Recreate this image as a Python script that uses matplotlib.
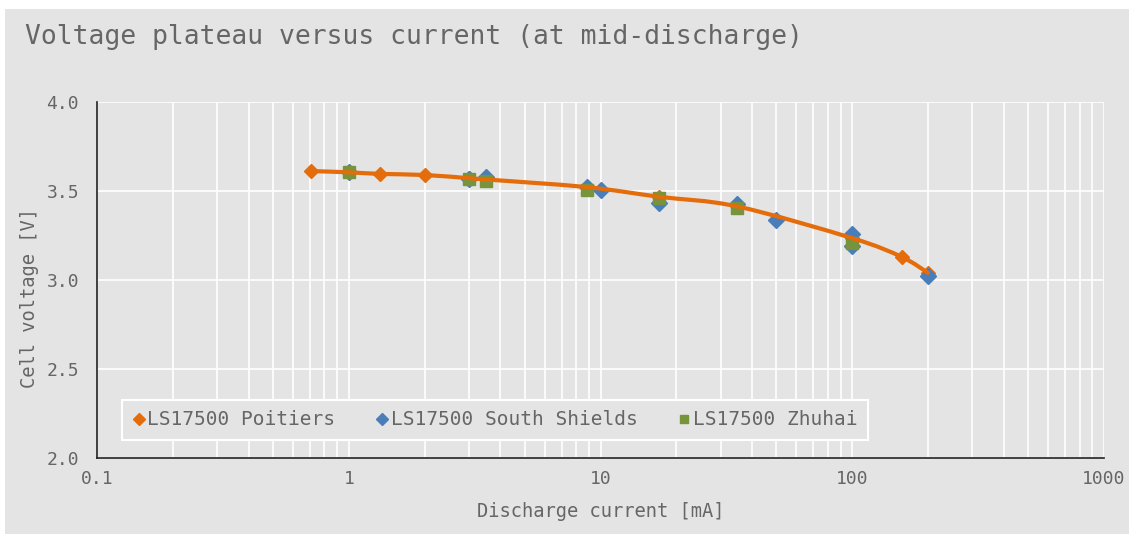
import numpy as np
import matplotlib.pyplot as plt
from matplotlib.lines import Line2D
from matplotlib.patches import Rectangle, PathPatch
from matplotlib.path import Path

# discharge current [mA] and mid-discharge voltage [V]
poitiers_i = [0.71, 1.0, 1.33, 2.0, 3.0, 3.5, 8.8, 17, 35, 100, 157, 200]
poitiers_v = [3.612, 3.605, 3.596, 3.59, 3.572, 3.565, 3.522, 3.468, 3.413, 3.235, 3.13, 3.04]

shields_i = [1.0, 3.0, 3.5, 8.8, 10, 17, 35, 50, 100, 100, 200]
shields_v = [3.605, 3.565, 3.58, 3.52, 3.506, 3.435, 3.425, 3.337, 3.26, 3.19, 3.025]

zhuhai_i = [1.0, 3.0, 3.5, 8.8, 17, 35, 100]
zhuhai_v = [3.605, 3.567, 3.558, 3.506, 3.46, 3.405, 3.21]

x_ticks = [0.1, 1, 10, 100, 1000]
x_ticklabels = ['0.1', '1', '10', '100', '1000']
y_ticks = [2.0, 2.5, 3.0, 3.5, 4.0]

ORANGE = '#E46C0A'
BLUE = '#4A7EBB'
GREEN = '#77933C'
BG = '#E4E4E4'
TXT = '#666666'
FONT = 'DejaVu Sans Mono'

plt.rcParams['font.family'] = FONT


def smooth_path(xs, ys, t=0.5):
    # Excel-like smoothed line: Catmull-Rom segments as cubic Bezier in log-x space
    lx = np.log10(xs)
    y = np.asarray(ys, float)
    n = len(lx)
    verts = [(xs[0], y[0])]
    codes = [Path.MOVETO]
    for k in range(n - 1):
        p0 = max(k - 1, 0)
        p3 = min(k + 2, n - 1)
        c1x = lx[k] + (lx[k + 1] - lx[p0]) * t / 3
        c1y = y[k] + (y[k + 1] - y[p0]) * t / 3
        c2x = lx[k + 1] - (lx[p3] - lx[k]) * t / 3
        c2y = y[k + 1] - (y[p3] - y[k]) * t / 3
        verts += [(10 ** c1x, c1y), (10 ** c2x, c2y), (xs[k + 1], y[k + 1])]
        codes += [Path.CURVE4] * 3
    return Path(verts, codes)


fig = plt.figure(figsize=(11.29, 5.34), dpi=100)
fig.patch.set_facecolor('white')
fig.patches.append(Rectangle((5 / 1129, 0), 1, 1 - 9 / 534, transform=fig.transFigure,
                             facecolor=BG, edgecolor='none', zorder=-10))

ax = fig.add_axes([97 / 1129, 1 - 458 / 534, 1007 / 1129, 356 / 534])
ax.set_facecolor(BG)
ax.set_xscale('log')
ax.set_xlim(0.1, 1000)
ax.set_ylim(2.0, 4.0)

ax.grid(True, which='both', axis='x', color='white', linewidth=1.2)
ax.grid(True, which='major', axis='y', color='white', linewidth=1.2)
ax.set_axisbelow(True)

for s in ['top', 'right']:
    ax.spines[s].set_visible(False)
for s in ['left', 'bottom']:
    ax.spines[s].set_color('#222222')
    ax.spines[s].set_linewidth(1.2)

ax.plot(poitiers_i, poitiers_v, ls='none', marker='D', ms=7, color=ORANGE, zorder=2)
ax.plot(shields_i, shields_v, ls='none', marker='D', ms=8, color=BLUE, zorder=3)
ax.plot(zhuhai_i, zhuhai_v, ls='none', marker='s', ms=8.5, color=GREEN, zorder=4)
ax.add_patch(PathPatch(smooth_path(poitiers_i, poitiers_v, t=0.5), facecolor='none',
                       edgecolor=ORANGE, lw=3, capstyle='round', zorder=5))

ax.set_xticks(x_ticks)
ax.set_xticklabels(x_ticklabels)
ax.set_yticks(y_ticks)
ax.set_yticklabels(['%.1f' % v for v in y_ticks])
ax.tick_params(axis='both', which='both', length=0, labelsize=13, colors=TXT)
ax.tick_params(axis='x', pad=9)
ax.tick_params(axis='y', pad=13)

ax.set_xlabel('Discharge current [mA]', fontsize=13.5, color=TXT, labelpad=10)
ax.set_ylabel('Cell voltage [V]', fontsize=13.5, color=TXT, va='center')
ax.yaxis.set_label_coords(-67 / 1007, 0.45)

fig.text(25 / 1129, 1 - 37 / 534, 'Voltage plateau versus current (at mid-discharge)',
         fontsize=19, color=TXT, va='center', ha='left')

handles = [
    Line2D([], [], ls='none', marker='D', ms=6, color=ORANGE),
    Line2D([], [], ls='none', marker='D', ms=6, color=BLUE),
    Line2D([], [], ls='none', marker='s', ms=6, color=GREEN),
]
labels = ['LS17500 Poitiers', 'LS17500 South Shields', 'LS17500 Zhuhai']
leg = ax.legend(handles, labels, ncol=3, loc='lower left',
                bbox_to_anchor=(25 / 1007, 18 / 356), borderaxespad=0,
                fontsize=14, handlelength=0.6, handletextpad=0.15,
                columnspacing=2.1, borderpad=0.55, frameon=True,
                fancybox=False, labelcolor=TXT)
leg.get_frame().set_facecolor(BG)
leg.get_frame().set_edgecolor('white')
leg.get_frame().set_linewidth(1.5)
leg.get_frame().set_alpha(1)

fig.savefig('out.png', dpi=100)
